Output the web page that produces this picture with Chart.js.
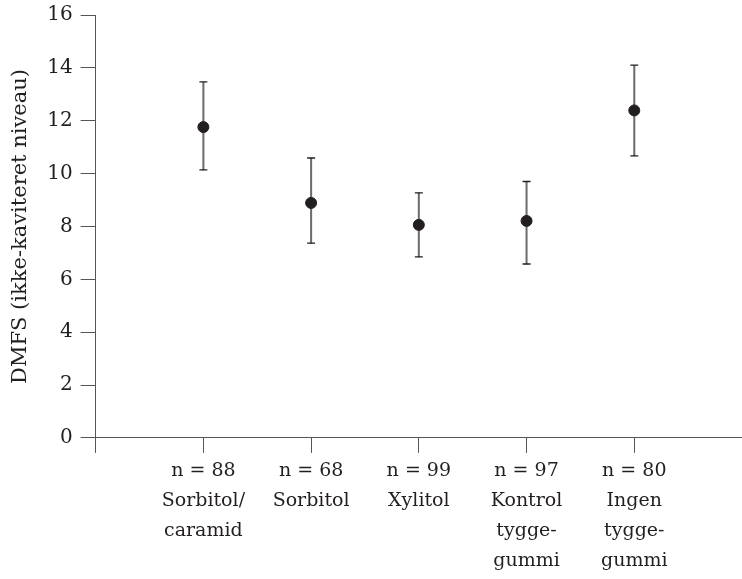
<!DOCTYPE html>
<html>
<head>
<meta charset="utf-8">
<script src="https://cdn.jsdelivr.net/npm/chart.js@4/dist/chart.umd.min.js"></script>
<style>
    body { margin: 0; background: #fff; }
    #wrap { width: 742px; height: 579px; position: relative; }
</style>
</head>
<body>
<div id="wrap"><canvas id="chart"></canvas></div>
<script>
// data
var groupN = ["n = 88", "n = 68", "n = 99", "n = 97", "n = 80"]
var groupNames = [["Sorbitol/", "caramid"], ["Sorbitol"], ["Xylitol"], ["Kontrol", "tygge-", "gummi"], ["Ingen", "tygge-", "gummi"]]
var meanValues = [11.76, 8.89, 8.06, 8.21, 12.39]
var lowValues = [10.14, 7.37, 6.85, 6.58, 10.67]
var highValues = [13.47, 10.59, 9.27, 9.70, 14.10]
var yTicks = [0, 2, 4, 6, 8, 10, 12, 14, 16]
var yTitle = "DMFS (ikke-kaviteret niveau)"

var ink = "#231f20"
var axisColor = "#555555"
var barColor = "#6e6e6e"
var fontFamily = "'DejaVu Serif', serif"

// empty slot at each end so the axis starts at the y axis and runs to the edge
var labels = [""]
var meanData = [null], lowData = [null], highData = [null], rangeData = [null]
for (var i = 0; i < groupN.length; i++) {
    labels.push([groupN[i]].concat(groupNames[i]))
    meanData.push(meanValues[i])
    lowData.push(lowValues[i])
    highData.push(highValues[i])
    rangeData.push([lowValues[i], highValues[i]])
}
labels.push("")
meanData.push(null); lowData.push(null); highData.push(null); rangeData.push(null)

new Chart(document.getElementById("chart"), {
    type: "bar",
    data: {
        labels: labels,
        datasets: [
            {
                type: "line", data: meanData, showLine: false, order: 0,
                pointRadius: 5.5, pointBackgroundColor: ink, pointBorderColor: ink, pointBorderWidth: 1
            },
            {
                type: "line", data: lowData, showLine: false, order: 1,
                pointStyle: "line", pointRadius: 4, pointBorderColor: ink, pointBorderWidth: 1.3
            },
            {
                type: "line", data: highData, showLine: false, order: 1,
                pointStyle: "line", pointRadius: 4, pointBorderColor: ink, pointBorderWidth: 1.3
            },
            {
                type: "bar", data: rangeData, order: 2,
                barThickness: 1.4, backgroundColor: barColor, borderWidth: 0, borderSkipped: false
            }
        ]
    },
    options: {
        responsive: true,
        maintainAspectRatio: false,
        animation: false,
        layout: {autoPadding: false, padding: {top: 0, right: 0, left: 0, bottom: 0}},
        scales: {
            x: {
                offset: false,
                afterFit: function(axis) { axis.paddingRight = 0 },
                grid: {
                    offset: false,
                    drawOnChartArea: false, drawTicks: true, tickLength: 15, lineWidth: 1,
                    color: function(c) { return c.index === labels.length - 1 ? "rgba(0,0,0,0)" : axisColor }
                },
                border: {color: axisColor, width: 1},
                ticks: {
                    autoSkip: false, maxRotation: 0, minRotation: 0, padding: 3,
                    color: ink, font: {family: fontFamily, size: 19, lineHeight: 1.58}
                }
            },
            y: {
                min: 0, max: 16,
                afterBuildTicks: function(axis) { axis.ticks = yTicks.map(function(v) { return {value: v} }) },
                afterFit: function(axis) { axis.paddingTop = 15 },
                grid: {drawOnChartArea: false, drawTicks: true, tickLength: 15, color: axisColor},
                border: {color: axisColor, width: 1},
                ticks: {padding: 8, color: ink, font: {family: fontFamily, size: 20}},
                title: {display: true, text: yTitle, color: ink, padding: {top: 8, bottom: 6}, font: {family: fontFamily, size: 21}}
            }
        },
        plugins: {legend: {display: false}, tooltip: {enabled: false}}
    }
})
</script>
</body>
</html>
